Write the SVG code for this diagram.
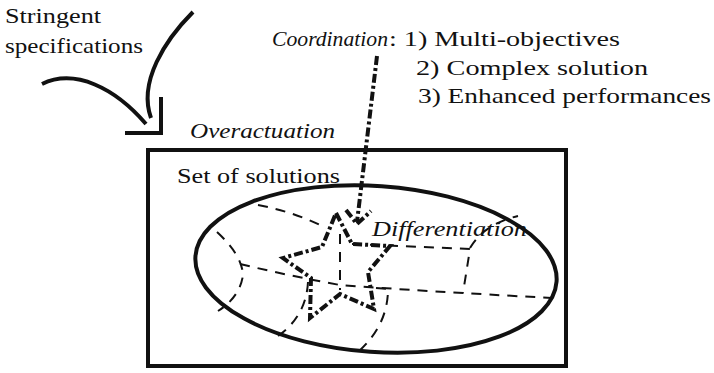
<svg xmlns="http://www.w3.org/2000/svg" width="714" height="373" viewBox="0 0 714 373">
<style>
  .thick { fill: none; stroke: #111; stroke-width: 4; }
  .dash { fill: none; stroke: #111; stroke-width: 2; stroke-dasharray: 10 8; }
  .dd { fill: none; stroke: #111; stroke-width: 4; stroke-dasharray: 9 3 3 3; }
  .t { font-family: 'Liberation Serif', 'DejaVu Serif', serif; font-size: 21px; fill: #111; }
  .it { font-style: italic; }
</style>
<rect width="714" height="373" fill="#fff"/>

<g id="specs">
  <text class="t" x="5" y="23" textLength="96" lengthAdjust="spacingAndGlyphs">Stringent</text>
  <text class="t" x="5" y="53" textLength="138" lengthAdjust="spacingAndGlyphs">specifications</text>
  <path class="thick" d="M193,12 C165,40 138,82 151,118"/>
  <path class="thick" d="M42,84 C75,68 115,88 146,124"/>
  <path class="thick" d="M125,133 L161,133 L161,97"/>
</g>

<g id="coordination">
  <text class="t it" x="272" y="46" textLength="116" lengthAdjust="spacingAndGlyphs">Coordination</text>
  <text class="t" x="389" y="46" textLength="231" lengthAdjust="spacingAndGlyphs">: 1) Multi-objectives</text>
  <text class="t" x="416" y="75" textLength="232" lengthAdjust="spacingAndGlyphs">2) Complex solution</text>
  <text class="t" x="418" y="103" textLength="293" lengthAdjust="spacingAndGlyphs">3) Enhanced performances</text>
</g>

<g id="overactuation">
  <text class="t it" x="190" y="138" textLength="145" lengthAdjust="spacingAndGlyphs">Overactuation</text>
  <rect class="thick" x="148" y="150" width="418" height="216"/>
  <text class="t" x="177" y="183" textLength="163" lengthAdjust="spacingAndGlyphs">Set of solutions</text>
</g>

<g id="solutions">
  <ellipse class="thick" cx="376" cy="269" rx="181" ry="83" transform="rotate(4 376 269)"/>
  <g id="regions">
    <path class="dash" d="M258,205 Q295,212 326,228"/>
    <path class="dash" d="M217,232 Q242,255 243,275 Q240,297 218,311"/>
    <path class="dash" d="M240,264 Q290,276 340,285 Q420,291 552,298"/>
    <path class="dash" d="M352,244 L470,249 L463,293"/>
    <path class="dash" d="M470,248 Q484,224 518,216"/>
    <path class="dash" d="M340,234 L340,290"/>
    <path class="dash" d="M376,288 L388,289 Q388,325 358,352"/>
    <path class="dash" d="M308,282 Q306,318 275,338"/>
  </g>
  <text class="t it" x="372" y="236" textLength="155" lengthAdjust="spacingAndGlyphs">Differentiation</text>
  <path id="star" class="dd" d="M336,213 L352,244 L390,246 L368,272 L374,309 L340,294 L310,318 L311,278 L283,258 L322,247 Z"/>
</g>

<g id="connectors">
  <path class="dd" d="M377,56 L357,222"/>
  <path class="dd" d="M346,210 L357,224 L371,211"/>
</g>
</svg>
